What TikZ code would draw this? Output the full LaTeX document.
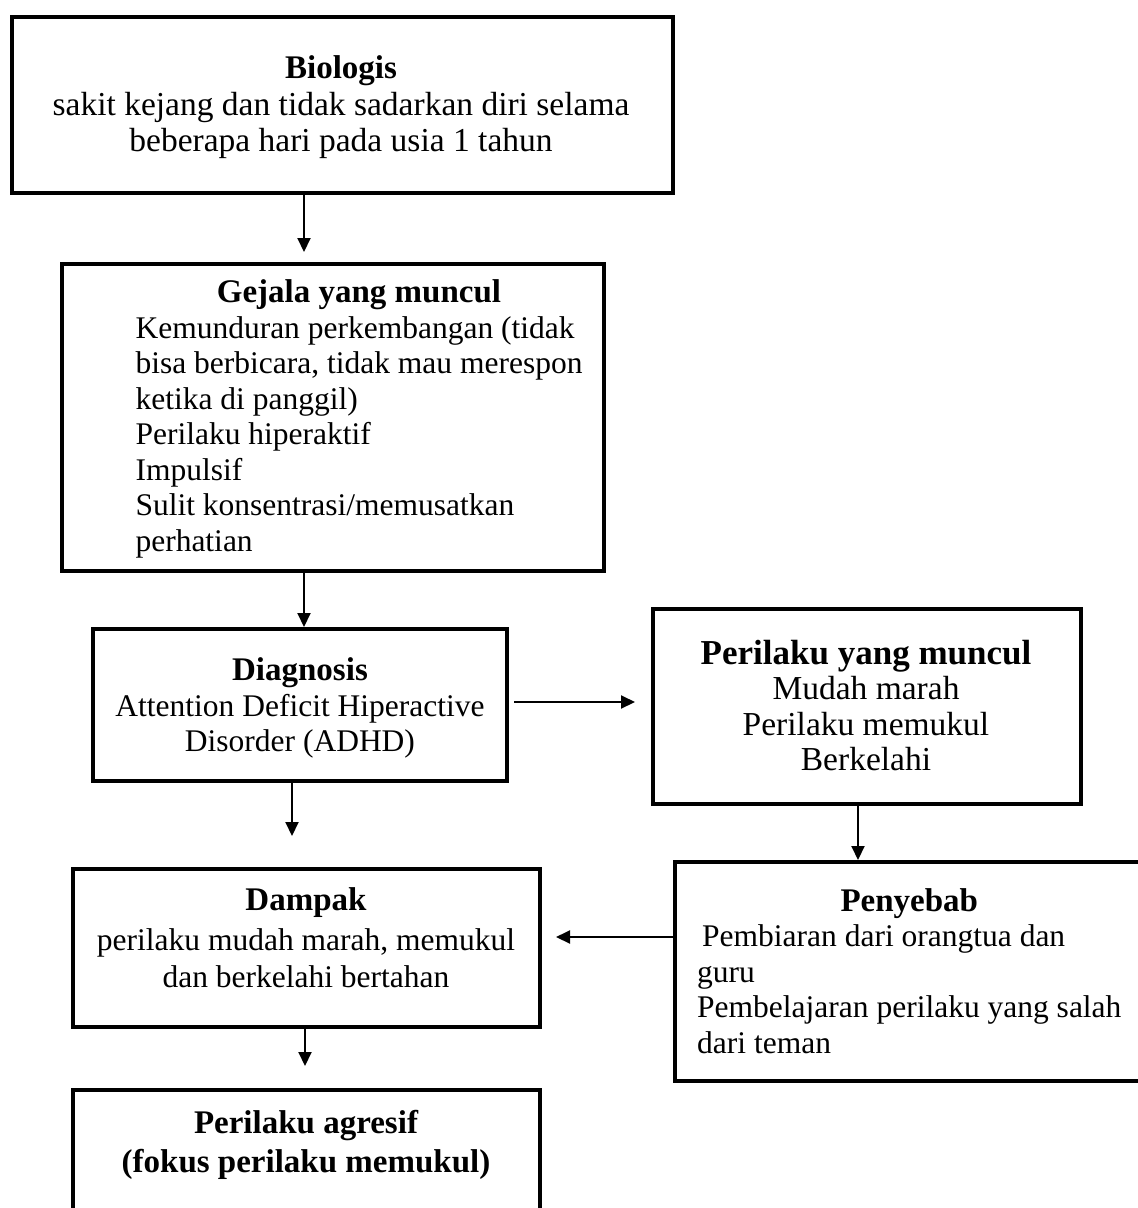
\documentclass[tikz,border=0pt]{standalone}
\usepackage{fontspec}
\setmainfont{Liberation Serif}
\usetikzlibrary{arrows.meta}
\newcommand\boxtitle[1]{{\fontsize{33}{35.5}\selectfont\bfseries #1}}
\newcommand\bigboxtitle[1]{{\fontsize{35}{35.5}\selectfont\bfseries #1}}
\begin{document}
\begin{tikzpicture}[x=1pt,y=-1pt,
  box/.style={draw,line width=4pt,inner sep=0pt},
  txt/.style={inner sep=0pt,font=\fontsize{31.5}{35.5}\selectfont},
  bigtxt/.style={inner sep=0pt,font=\fontsize{33.5}{35.5}\selectfont},
  arr/.style={line width=2pt,-{Triangle[width=13pt,length=14pt]}}]
\useasboundingbox (0,0) rectangle (1138,1208);
% boxes
\node[box,minimum width=661pt,minimum height=176pt] (bio) at (342.5,105) {};
\node[box,minimum width=542pt,minimum height=307pt] (gej) at (333,417.5) {};
\node[box,minimum width=414pt,minimum height=152pt] (dia) at (300,705) {};
\node[box,minimum width=428pt,minimum height=195pt] (per) at (867,706.5) {};
\node[box,minimum width=475pt,minimum height=219pt] (pen) at (912.5,971.5) {};
\node[box,minimum width=467pt,minimum height=158pt] (dam) at (306.5,948) {};
\node[box,minimum width=467pt,minimum height=140pt] (agr) at (306.5,1160) {};
% texts
\node[bigtxt] (biot) at (341,108) {\begin{tabular}{@{}c@{}}\boxtitle{Biologis}\\[1pt] sakit kejang dan tidak sadarkan diri selama\\[1pt] beberapa hari pada usia 1 tahun\end{tabular}};
\node[txt] (gejt) at (359,420) {\begin{tabular}{@{}l@{}}\multicolumn{1}{@{}c@{}}{\boxtitle{Gejala yang muncul}}\\ Kemunduran perkembangan (tidak\\ bisa berbicara, tidak mau merespon\\ ketika di panggil)\\ Perilaku hiperaktif\\ Impulsif\\ Sulit konsentrasi/memusatkan\\ perhatian\end{tabular}};
\node[txt] (diat) at (300,709) {\begin{tabular}{@{}c@{}}\boxtitle{Diagnosis}\\ Attention Deficit Hiperactive\\ Disorder (ADHD)\end{tabular}};
\node[bigtxt] (pert) at (866,710.5) {\begin{tabular}{@{}c@{}}\bigboxtitle{Perilaku yang muncul}\\ Mudah marah\\ Perilaku memukul\\ Berkelahi\end{tabular}};
\node[txt,anchor=west] (pent) at (697,975) {\begin{tabular}{@{}l@{}}\multicolumn{1}{@{}c@{}}{\boxtitle{Penyebab}}\\ \hspace{5pt}Pembiaran dari orangtua dan\\ guru\\ Pembelajaran perilaku yang salah\\ dari teman\end{tabular}};
\node[txt] (damt) at (306,942) {\begin{tabular}{@{}c@{}}\boxtitle{Dampak}\\[4pt] perilaku mudah marah, memukul\\[2pt] dan berkelahi bertahan\end{tabular}};
\node[txt] (agrt) at (306,1146) {\begin{tabular}{@{}c@{}}\boxtitle{Perilaku agresif}\\[4pt] \boxtitle{(fokus perilaku memukul)}\end{tabular}};
% helper coordinates
\coordinate (x304) at (304,0);
\coordinate (x292) at (292,0);
\coordinate (x858) at (858,0);
\coordinate (x305) at (305,0);
\coordinate (y702) at (0,702);
\coordinate (y937) at (0,937);
\coordinate (dend) at (292,836);
% connectors
\draw[arr,shorten >=10pt] (bio.south -| x304) -- (gej.north -| x304);
\draw[arr] (gej.south -| x304) -- (dia.north -| x304);
\draw[arr,shorten <=5pt,shorten >=16pt] (dia.east |- y702) -- (per.west |- y702);
\draw[arr] (dia.south -| x292) -- (dend);
\draw[arr] (per.south -| x858) -- (pen.north -| x858);
\draw[arr,shorten >=14pt] (pen.west |- y937) -- (dam.east |- y937);
\draw[arr,shorten >=22pt] (dam.south -| x305) -- (agr.north -| x305);
\end{tikzpicture}
\end{document}
